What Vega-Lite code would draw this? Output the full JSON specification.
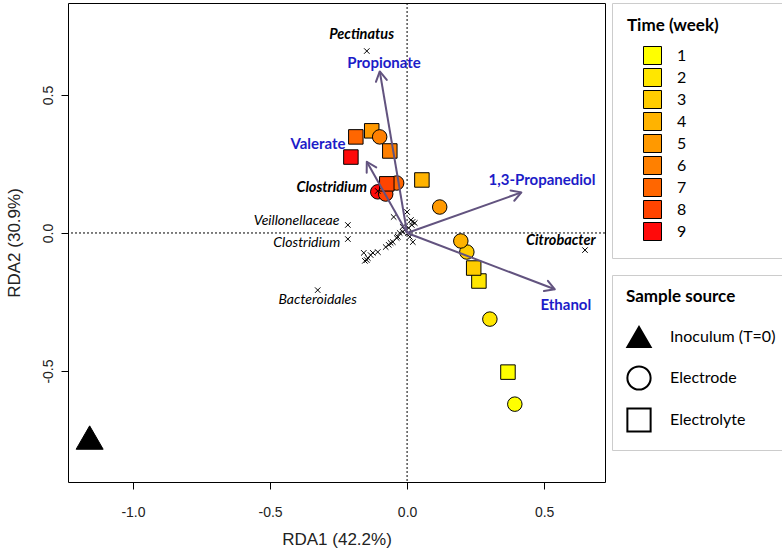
{
  "$schema": "https://vega.github.io/schema/vega-lite/v6.json",
  "width": 537,
  "height": 479,
  "autosize": {"type": "none"},
  "padding": {"left": 68, "top": 3, "right": 177, "bottom": 70},
  "config": {
    "view": {"stroke": "black", "strokeWidth": 1},
    "font": "Liberation Sans",
    "legend": {"labelFont": "Lato", "titleFont": "Lato"},
    "axisX": {
      "grid": false, "domain": false, "tickSize": 7, "tickColor": "black", "labelPadding": 16, "labelFontSize": 14, "labelColor": "#222222",
      "labelFont": "Liberation Sans", "titleFont": "Liberation Sans", "titleFontSize": 17, "titleFontWeight": "normal", "titleColor": "#222222", "titlePadding": 12
    },
    "axisY": {
      "grid": false, "domain": false, "tickSize": 7, "tickColor": "black", "labelPadding": 6, "labelFontSize": 14, "labelColor": "#222222",
      "labelAngle": -90, "labelAlign": "center", "labelBaseline": "bottom",
      "labelFont": "Liberation Sans", "titleFont": "Liberation Sans", "titleFontSize": 17, "titleFontWeight": "normal", "titleColor": "#222222", "titlePadding": 18
    }
  },
  "datasets": {
    "samples": [
      {"x": 0.368, "y": -0.504, "time": 1, "source": "Electrolyte"},
      {"x": 0.262, "y": -0.174, "time": 2, "source": "Electrolyte"},
      {"x": 0.243, "y": -0.127, "time": 3, "source": "Electrolyte"},
      {"x": 0.054, "y": 0.192, "time": 4, "source": "Electrolyte"},
      {"x": -0.129, "y": 0.370, "time": 5, "source": "Electrolyte"},
      {"x": -0.100, "y": 0.348, "time": 6, "source": "Electrode"},
      {"x": -0.063, "y": 0.297, "time": 6, "source": "Electrolyte"},
      {"x": -0.187, "y": 0.348, "time": 7, "source": "Electrolyte"},
      {"x": -0.205, "y": 0.275, "time": 9, "source": "Electrolyte"},
      {"x": 0.393, "y": -0.620, "time": 1, "source": "Electrode"},
      {"x": 0.302, "y": -0.312, "time": 2, "source": "Electrode"},
      {"x": 0.218, "y": -0.069, "time": 3, "source": "Electrode"},
      {"x": 0.196, "y": -0.029, "time": 4, "source": "Electrode"},
      {"x": 0.119, "y": 0.094, "time": 5, "source": "Electrode"},
      {"x": -0.107, "y": 0.149, "time": 9, "source": "Electrode"},
      {"x": -0.078, "y": 0.141, "time": 8, "source": "Electrode"},
      {"x": -0.038, "y": 0.181, "time": 7, "source": "Electrode"},
      {"x": -0.074, "y": 0.178, "time": 8, "source": "Electrolyte"}
    ],
    "inoculum": [
      {"x": -1.158, "y": -0.741, "source": "Inoculum (T=0)"}
    ],
    "species": [
      {"x": -0.147, "y": 0.659},
      {"x": -0.107, "y": 0.152},
      {"x": 0.649, "y": -0.062},
      {"x": -0.216, "y": 0.029},
      {"x": -0.216, "y": -0.022},
      {"x": -0.326, "y": -0.207},
      {"x": -0.158, "y": -0.072},
      {"x": -0.147, "y": -0.098},
      {"x": -0.143, "y": -0.091},
      {"x": -0.133, "y": -0.080},
      {"x": -0.125, "y": -0.072},
      {"x": -0.107, "y": -0.069},
      {"x": -0.154, "y": -0.101},
      {"x": -0.049, "y": 0.058},
      {"x": 0.0, "y": 0.076},
      {"x": 0.020, "y": 0.040},
      {"x": 0.028, "y": 0.036},
      {"x": 0.017, "y": 0.029},
      {"x": -0.052, "y": -0.033},
      {"x": -0.038, "y": -0.018},
      {"x": -0.034, "y": -0.014},
      {"x": -0.027, "y": 0.0},
      {"x": -0.016, "y": 0.004},
      {"x": -0.008, "y": 0.011},
      {"x": 0.003, "y": 0.0},
      {"x": 0.010, "y": -0.014},
      {"x": 0.021, "y": -0.033},
      {"x": -0.016, "y": 0.022},
      {"x": -0.078, "y": -0.051},
      {"x": -0.067, "y": -0.043},
      {"x": -0.060, "y": -0.036},
      {"x": 0.006, "y": 0.018},
      {"x": 0.014, "y": 0.047}
    ],
    "arrows": [
      {"name": "Propionate", "x": -0.0996, "y": 0.585},
      {"name": "Valerate", "x": -0.147, "y": 0.258},
      {"name": "1,3-Propanediol", "x": 0.417, "y": 0.147},
      {"name": "Ethanol", "x": 0.539, "y": -0.204}
    ],
    "arrowLabels": [
      {"name": "Propionate", "x": -0.084, "y": 0.616},
      {"name": "Valerate", "x": -0.325, "y": 0.322},
      {"name": "1,3-Propanediol", "x": 0.492, "y": 0.192},
      {"name": "Ethanol", "x": 0.579, "y": -0.261}
    ],
    "boldLabels": [
      {"name": "Pectinatus", "x": -0.166, "y": 0.717},
      {"name": "Clostridium", "x": -0.275, "y": 0.163},
      {"name": "Citrobacter", "x": 0.561, "y": -0.029}
    ],
    "italicLabels": [
      {"name": "Veillonellaceae", "x": -0.403, "y": 0.043},
      {"name": "Clostridium", "x": -0.366, "y": -0.036},
      {"name": "Bacteroidales", "x": -0.326, "y": -0.243}
    ]
  },
  "layer": [
    {
      "data": {"values": [{"v": 0}]},
      "mark": {"type": "rule", "strokeDash": [2, 2], "color": "black", "strokeWidth": 1},
      "encoding": {
        "x": {"field": "v", "type": "quantitative", "title": "RDA1 (42.2%)", "scale": {"domain": [-1.237, 0.722], "nice": false, "zero": false}, "axis": {"values": [-1, -0.5, 0, 0.5], "format": ".1f", "labelExpr": "replace(datum.label, '\u2212', '-')"}}
      }
    },
    {
      "data": {"values": [{"v": 0}]},
      "mark": {"type": "rule", "strokeDash": [2, 2], "color": "black", "strokeWidth": 1},
      "encoding": {
        "y": {"field": "v", "type": "quantitative", "title": "RDA2 (30.9%)", "scale": {"domain": [-0.902, 0.833], "nice": false, "zero": false}, "axis": {"values": [-0.5, 0, 0.5], "format": ".1f", "labelExpr": "replace(datum.label, '\u2212', '-')"}}
      }
    },
    {
      "data": {"name": "inoculum"},
      "mark": {"type": "point", "filled": true, "size": 729, "stroke": "black", "strokeWidth": 1, "opacity": 1},
      "encoding": {
        "x": {"field": "x", "type": "quantitative", "title": "RDA1 (42.2%)", "scale": {"domain": [-1.237, 0.722], "nice": false, "zero": false}, "axis": {"values": [-1, -0.5, 0, 0.5], "format": ".1f", "labelExpr": "replace(datum.label, '\u2212', '-')"}},
        "y": {"field": "y", "type": "quantitative", "title": "RDA2 (30.9%)", "scale": {"domain": [-0.902, 0.833], "nice": false, "zero": false}, "axis": {"values": [-0.5, 0, 0.5], "format": ".1f", "labelExpr": "replace(datum.label, '\u2212', '-')"}},
        "color": {
          "field": "source", "type": "nominal",
          "scale": {"domain": ["Inoculum (T=0)", "Electrode", "Electrolyte"], "range": ["black", "white", "white"]},
          "legend": {
            "orient": "none", "legendX": 544, "legendY": 272,
            "title": "Sample source", "titleFontSize": 17, "titleFontWeight": "bold", "titleColor": "black", "titlePadding": 18,
            "labelFontSize": 16, "labelColor": "black", "labelOffset": 18,
            "symbolSize": 540, "symbolStrokeWidth": 2, "symbolStrokeColor": "black", "symbolFillColor": "white",
            "rowPadding": 10, "padding": 14, "strokeColor": "#cccccc", "fillColor": "white"
          }
        },
        "shape": {
          "field": "source", "type": "nominal",
          "scale": {"domain": ["Inoculum (T=0)", "Electrode", "Electrolyte"], "range": ["triangle-up", "circle", "square"]},
          "legend": {
            "orient": "none", "legendX": 544, "legendY": 272,
            "title": "Sample source", "titleFontSize": 17, "titleFontWeight": "bold", "titleColor": "black", "titlePadding": 18,
            "labelFontSize": 16, "labelColor": "black", "labelOffset": 18,
            "symbolSize": 540, "symbolStrokeWidth": 2, "symbolStrokeColor": "black", "symbolFillColor": "white",
            "rowPadding": 10, "padding": 14, "strokeColor": "#cccccc", "fillColor": "white"
          }
        }
      }
    },
    {
      "data": {"name": "samples"},
      "mark": {"type": "point", "filled": true, "size": 210, "stroke": "black", "strokeWidth": 1, "opacity": 1},
      "encoding": {
        "x": {"field": "x", "type": "quantitative", "title": "RDA1 (42.2%)", "scale": {"domain": [-1.237, 0.722], "nice": false, "zero": false}, "axis": {"values": [-1, -0.5, 0, 0.5], "format": ".1f", "labelExpr": "replace(datum.label, '\u2212', '-')"}},
        "y": {"field": "y", "type": "quantitative", "title": "RDA2 (30.9%)", "scale": {"domain": [-0.902, 0.833], "nice": false, "zero": false}, "axis": {"values": [-0.5, 0, 0.5], "format": ".1f", "labelExpr": "replace(datum.label, '\u2212', '-')"}},
        "fill": {
          "field": "time", "type": "ordinal",
          "scale": {"domain": [1, 2, 3, 4, 5, 6, 7, 8, 9], "range": ["#FFFF00", "#FFE600", "#FFCC00", "#FFB300", "#FF9900", "#FF8000", "#FF6600", "#FF4400", "#FF0A0A"]},
          "legend": {
            "orient": "none", "legendX": 544, "legendY": 0,
            "title": "Time (week)\u00a0\u00a0\u00a0\u00a0\u00a0\u00a0\u00a0\u00a0\u00a0\u00a0\u00a0\u00a0\u200b", "titleFontSize": 17, "titleFontWeight": "bold", "titleColor": "black", "titlePadding": 11,
            "labelFontSize": 16, "labelColor": "black", "labelOffset": 15,
            "symbolType": "square", "symbolSize": 324, "symbolStrokeColor": "black", "symbolStrokeWidth": 1, "symbolOffset": 16,
            "rowPadding": -1, "padding": 15, "strokeColor": "#cccccc", "fillColor": "white"
          }
        },
        "shape": {
          "field": "source", "type": "nominal",
          "scale": {"domain": ["Inoculum (T=0)", "Electrode", "Electrolyte"], "range": ["triangle-up", "circle", "square"]},
          "legend": null
        }
      }
    },
    {
      "data": {"name": "species"},
      "mark": {"type": "point", "filled": false, "shape": "M-1,-1L1,1M1,-1L-1,1", "size": 30, "color": "black", "strokeWidth": 1, "opacity": 1},
      "encoding": {
        "x": {"field": "x", "type": "quantitative", "title": "RDA1 (42.2%)", "scale": {"domain": [-1.237, 0.722], "nice": false, "zero": false}, "axis": {"values": [-1, -0.5, 0, 0.5], "format": ".1f", "labelExpr": "replace(datum.label, '\u2212', '-')"}},
        "y": {"field": "y", "type": "quantitative", "title": "RDA2 (30.9%)", "scale": {"domain": [-0.902, 0.833], "nice": false, "zero": false}, "axis": {"values": [-0.5, 0, 0.5], "format": ".1f", "labelExpr": "replace(datum.label, '\u2212', '-')"}}
      }
    },
    {
      "data": {"name": "arrows"},
      "mark": {"type": "rule", "color": "#62537f", "strokeWidth": 2},
      "encoding": {
        "x": {"field": "x", "type": "quantitative", "title": "RDA1 (42.2%)", "scale": {"domain": [-1.237, 0.722], "nice": false, "zero": false}, "axis": {"values": [-1, -0.5, 0, 0.5], "format": ".1f", "labelExpr": "replace(datum.label, '\u2212', '-')"}},
        "y": {"field": "y", "type": "quantitative", "title": "RDA2 (30.9%)", "scale": {"domain": [-0.902, 0.833], "nice": false, "zero": false}, "axis": {"values": [-0.5, 0, 0.5], "format": ".1f", "labelExpr": "replace(datum.label, '\u2212', '-')"}},
        "x2": {"datum": 0},
        "y2": {"datum": 0}
      }
    },
    {
      "data": {"name": "arrows"},
      "transform": [{"calculate": "atan2(datum.x * 274, datum.y * 276) * 180 / PI", "as": "ang"}],
      "mark": {"type": "point", "filled": false, "shape": "M-0.5,0.866L0,0L0.5,0.866", "size": 484, "color": "#62537f", "strokeWidth": 2, "opacity": 1, "strokeCap": "round", "strokeJoin": "round"},
      "encoding": {
        "x": {"field": "x", "type": "quantitative", "title": "RDA1 (42.2%)", "scale": {"domain": [-1.237, 0.722], "nice": false, "zero": false}, "axis": {"values": [-1, -0.5, 0, 0.5], "format": ".1f", "labelExpr": "replace(datum.label, '\u2212', '-')"}},
        "y": {"field": "y", "type": "quantitative", "title": "RDA2 (30.9%)", "scale": {"domain": [-0.902, 0.833], "nice": false, "zero": false}, "axis": {"values": [-0.5, 0, 0.5], "format": ".1f", "labelExpr": "replace(datum.label, '\u2212', '-')"}},
        "angle": {"field": "ang", "type": "quantitative", "scale": null}
      }
    },
    {
      "data": {"name": "arrowLabels"},
      "mark": {"type": "text", "font": "Lato", "fontSize": 15, "fontWeight": "bold", "color": "#1c1cc8", "align": "center", "baseline": "middle"},
      "encoding": {
        "x": {"field": "x", "type": "quantitative", "title": "RDA1 (42.2%)", "scale": {"domain": [-1.237, 0.722], "nice": false, "zero": false}, "axis": {"values": [-1, -0.5, 0, 0.5], "format": ".1f", "labelExpr": "replace(datum.label, '\u2212', '-')"}},
        "y": {"field": "y", "type": "quantitative", "title": "RDA2 (30.9%)", "scale": {"domain": [-0.902, 0.833], "nice": false, "zero": false}, "axis": {"values": [-0.5, 0, 0.5], "format": ".1f", "labelExpr": "replace(datum.label, '\u2212', '-')"}},
        "text": {"field": "name"}
      }
    },
    {
      "data": {"name": "boldLabels"},
      "mark": {"type": "text", "font": "Lato", "fontSize": 14.5, "fontWeight": "bold", "fontStyle": "italic", "color": "black", "align": "center", "baseline": "middle"},
      "encoding": {
        "x": {"field": "x", "type": "quantitative", "title": "RDA1 (42.2%)", "scale": {"domain": [-1.237, 0.722], "nice": false, "zero": false}, "axis": {"values": [-1, -0.5, 0, 0.5], "format": ".1f", "labelExpr": "replace(datum.label, '\u2212', '-')"}},
        "y": {"field": "y", "type": "quantitative", "title": "RDA2 (30.9%)", "scale": {"domain": [-0.902, 0.833], "nice": false, "zero": false}, "axis": {"values": [-0.5, 0, 0.5], "format": ".1f", "labelExpr": "replace(datum.label, '\u2212', '-')"}},
        "text": {"field": "name"}
      }
    },
    {
      "data": {"name": "italicLabels"},
      "mark": {"type": "text", "font": "Lato", "fontSize": 14, "fontStyle": "italic", "color": "black", "align": "center", "baseline": "middle"},
      "encoding": {
        "x": {"field": "x", "type": "quantitative", "title": "RDA1 (42.2%)", "scale": {"domain": [-1.237, 0.722], "nice": false, "zero": false}, "axis": {"values": [-1, -0.5, 0, 0.5], "format": ".1f", "labelExpr": "replace(datum.label, '\u2212', '-')"}},
        "y": {"field": "y", "type": "quantitative", "title": "RDA2 (30.9%)", "scale": {"domain": [-0.902, 0.833], "nice": false, "zero": false}, "axis": {"values": [-0.5, 0, 0.5], "format": ".1f", "labelExpr": "replace(datum.label, '\u2212', '-')"}},
        "text": {"field": "name"}
      }
    }
  ]
}
